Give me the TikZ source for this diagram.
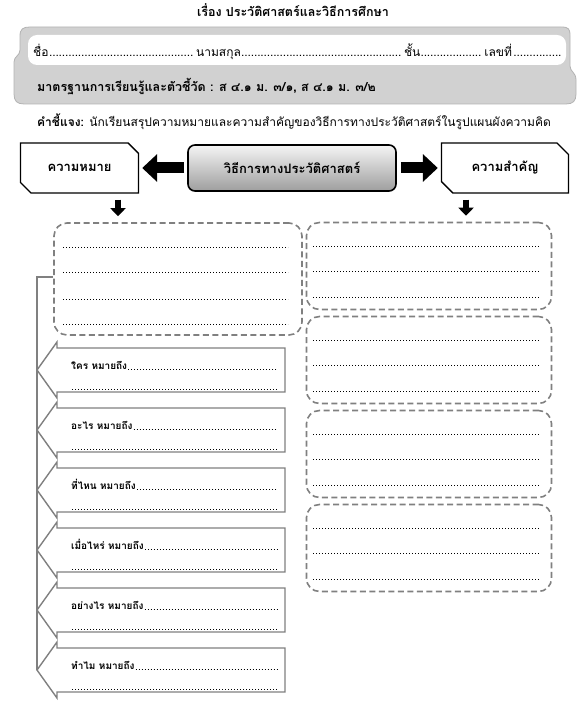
\documentclass[tikz,border=0pt]{standalone}
\usepackage{fontspec}
\setmainfont[Script=Thai]{Loma}
\usetikzlibrary{arrows.meta,positioning,shapes.misc}

\newcommand{\dotrun}[1]{\leaders\hbox to 3.2pt{\hss.\hss}\hskip 0pt plus #1fil\relax}

\begin{document}
\begin{tikzpicture}[x=1pt,y=-1pt,
corebox/.style={draw,line width=1.6pt,rounded corners=7pt,top color=black!4,bottom color=black!38,minimum width=208pt,minimum height=46pt,font=\bfseries\fontsize{13}{15}\selectfont},
catbox/.style={draw,fill=white,line width=1.3pt,chamfered rectangle,chamfered rectangle corners={north east,south west},chamfered rectangle xsep=8pt,minimum height=50pt,font=\bfseries\fontsize{13}{15}\selectfont},
notebox/.style={draw=gray,line width=1.6pt,dash pattern=on 6pt off 3.5pt,rounded corners=13pt},
dotline/.style={line width=0.7pt,dash pattern=on 0.7pt off 2.3pt},
fatarrow/.style={-{Triangle[length=15pt,width=27pt]},line width=11pt},
droparrow/.style={-{Triangle[length=8pt,width=15pt]},line width=6pt,shorten <=6pt,shorten >=6pt},
spine/.style={draw=gray,line width=2.8pt},
callout/.style={draw=gray,line width=1.4pt,fill=white,line join=miter},
asklabel/.style={inner sep=0pt,anchor=base west,font=\bfseries\fontsize{10}{12}\selectfont}
]
\useasboundingbox (0,0) rectangle (587,727);

% heading
\node[font=\bfseries\fontsize{12.5}{14}\selectfont,anchor=base] (title) at (293,17) {เรื่อง ประวัติศาสตร์และวิธีการศึกษา};

% banner
\draw[draw=black!30,fill=black!18,line width=0.8pt]
  (30,27) -- (561,27) .. controls (569,27) and (570,29) .. (570,36) -- (570,66)
  .. controls (570,72) and (576,72) .. (576,80) -- (576,94)
  .. controls (576,101) and (573,104) .. (566,104) -- (24,104)
  .. controls (17,104) and (14,101) .. (14,94) -- (14,62)
  .. controls (14,56) and (20,56) .. (20,50) -- (20,36)
  .. controls (20,29) and (23,27) .. (30,27) -- cycle;
\fill[white,rounded corners=9pt] (28,35) rectangle (566,65);
\node[anchor=base west,inner sep=0pt,font=\fontsize{12}{14}\selectfont] (namerow) at (33,57)
  {\hbox to 529pt{ชื่อ\dotrun{152}นามสกุล\dotrun{168}ชั้น\dotrun{66}เลขที่\dotrun{52}}};
\node[anchor=base west,inner sep=0pt,font=\bfseries\fontsize{12.5}{14}\selectfont] (standard) at (37,92)
  {มาตรฐานการเรียนรู้และตัวชี้วัด : ส ๔.๑ ม. ๓/๑, ส ๔.๑ ม. ๓/๒};
\node[anchor=base,inner sep=0pt,font=\fontsize{12}{14}\selectfont] (hint) at (294,127)
  {{\bfseries คำชี้แจง:} นักเรียนสรุปความหมายและความสำคัญของวิธีการทางประวัติศาสตร์ในรูปแผนผังความคิด};

% top row
\node[corebox] (core) at (292,168) {วิธีการทางประวัติศาสตร์};
\node[catbox,minimum width=118pt,left=48pt of core] (meaning) {ความหมาย};
\node[catbox,minimum width=127pt,right=44pt of core] (value) {ความสำคัญ};
\draw[fatarrow] ([xshift=-3pt]core.west) -- ([xshift=3pt]meaning.east);
\draw[fatarrow] ([xshift=4pt]core.east) -- ([xshift=-3pt]value.west);

% note boxes
\node[notebox,minimum width=248pt,minimum height=112pt] (meanbox) at (178,279) {};
\foreach \ry in {247,272,299,324}
  \draw[dotline] (63,\ry) -- (288,\ry);
\foreach \cy [count=\k] in {266,360,454,548}{
  \node[notebox,minimum width=245pt,minimum height=87pt] (imp\k) at (429,\cy) {};
  \foreach \dy in {-20,5,31}
    \draw[dotline] (313,\cy+\dy) -- (540,\cy+\dy);
}
\coordinate (mdrop) at (118,0);
\coordinate (vdrop) at (466,0);
\draw[droparrow] (meaning.south -| mdrop) -- (meanbox.north -| mdrop);
\draw[droparrow] (value.south -| vdrop) -- (imp1.north -| vdrop);

% question arrows
\foreach \lbl [count=\i] in {ใคร,อะไร,ที่ไหน,เมื่อไหร่,อย่างไร,ทำไม}{
  \pgfmathsetmacro{\m}{370+60*(\i-1)}
  \coordinate (tip\i) at (37,\m);
  \draw[callout] (tip\i) -- (57,\m-28) -- (57,\m-22) -- (285,\m-22) -- (285,\m+22) -- (57,\m+22) -- (57,\m+28) -- cycle;
  \node[asklabel] (ask\i) at (71,\m-1) {\lbl\ หมายถึง};
  \draw[dotline] ([xshift=1pt]ask\i.base east) -- (277,\m-1);
  \draw[dotline] (72,\m+19) -- (277,\m+19);
}
\coordinate (spinetop) at (37,277);
\draw[spine] (meanbox.west |- spinetop) -- (spinetop) -- (tip6);
\end{tikzpicture}
\end{document}
